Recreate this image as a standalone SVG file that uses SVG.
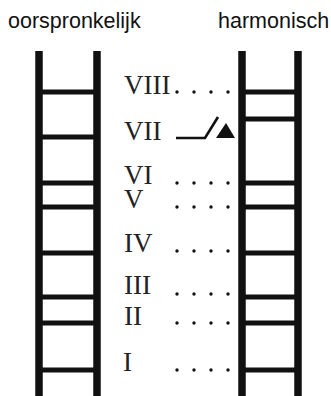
<svg xmlns="http://www.w3.org/2000/svg" width="331" height="396" viewBox="0 0 331 396">
<style>
.hdr{font-family:"Liberation Sans",Arial,sans-serif;font-size:21.5px;fill:#111}
.num{font-family:"Liberation Serif","Times New Roman",serif;font-size:27px;fill:#222}
.rail{stroke:#111;stroke-width:7.5;fill:none}
.rung{stroke:#111;stroke-width:5;fill:none}
.dot{fill:#111}
</style>
<rect width="331" height="396" fill="#fff"/>
<text class="hdr" x="8" y="28">oorspronkelijk</text>
<text class="hdr" x="218" y="28">harmonisch</text>
<g id="ladder-oorspronkelijk">
<line class="rail" x1="39" y1="51" x2="39" y2="396"/>
<line class="rail" x1="97" y1="51" x2="97" y2="396"/>
<line class="rung" x1="39" y1="92" x2="97" y2="92"/>
<line class="rung" x1="39" y1="137" x2="97" y2="137"/>
<line class="rung" x1="39" y1="183" x2="97" y2="183"/>
<line class="rung" x1="39" y1="207" x2="97" y2="207"/>
<line class="rung" x1="39" y1="253" x2="97" y2="253"/>
<line class="rung" x1="39" y1="297" x2="97" y2="297"/>
<line class="rung" x1="39" y1="323" x2="97" y2="323"/>
<line class="rung" x1="39" y1="370" x2="97" y2="370"/>
</g>
<g id="ladder-harmonisch">
<line class="rail" x1="242" y1="51" x2="242" y2="396"/>
<line class="rail" x1="298" y1="51" x2="298" y2="396"/>
<line class="rung" x1="242" y1="92" x2="298" y2="92"/>
<line class="rung" x1="242" y1="119" x2="298" y2="119"/>
<line class="rung" x1="242" y1="183" x2="298" y2="183"/>
<line class="rung" x1="242" y1="207" x2="298" y2="207"/>
<line class="rung" x1="242" y1="253" x2="298" y2="253"/>
<line class="rung" x1="242" y1="297" x2="298" y2="297"/>
<line class="rung" x1="242" y1="323" x2="298" y2="323"/>
<line class="rung" x1="242" y1="370" x2="298" y2="370"/>
</g>
<g id="labels">
<text class="num" x="124" y="94">VIII</text>
<text class="num" x="124" y="140">VII</text>
<text class="num" x="124" y="184">VI</text>
<text class="num" x="124" y="208">V</text>
<text class="num" x="124" y="252">IV</text>
<text class="num" x="124" y="294">III</text>
<text class="num" x="124" y="325">II</text>
<text class="num" x="123" y="371">I</text>
</g>
<g id="connectors">
<g class="dot">
<circle cx="177" cy="92" r="1.7"/><circle cx="194" cy="92" r="1.7"/><circle cx="211" cy="92" r="1.7"/><circle cx="228" cy="92" r="1.7"/>
<circle cx="177" cy="183" r="1.7"/><circle cx="194" cy="183" r="1.7"/><circle cx="211" cy="183" r="1.7"/><circle cx="228" cy="183" r="1.7"/>
<circle cx="177" cy="207" r="1.7"/><circle cx="194" cy="207" r="1.7"/><circle cx="211" cy="207" r="1.7"/><circle cx="228" cy="207" r="1.7"/>
<circle cx="177" cy="251" r="1.7"/><circle cx="194" cy="251" r="1.7"/><circle cx="211" cy="251" r="1.7"/><circle cx="228" cy="251" r="1.7"/>
<circle cx="177" cy="294" r="1.7"/><circle cx="194" cy="294" r="1.7"/><circle cx="211" cy="294" r="1.7"/><circle cx="228" cy="294" r="1.7"/>
<circle cx="177" cy="323" r="1.7"/><circle cx="194" cy="323" r="1.7"/><circle cx="211" cy="323" r="1.7"/><circle cx="228" cy="323" r="1.7"/>
<circle cx="177" cy="370" r="1.7"/><circle cx="194" cy="370" r="1.7"/><circle cx="211" cy="370" r="1.7"/><circle cx="228" cy="370" r="1.7"/>
</g>
<polyline points="176,138 205,138 218,117" fill="none" stroke="#111" stroke-width="2.6"/>
<polygon points="226,123 216,138 235,138" fill="#111"/>
</g>
</svg>
